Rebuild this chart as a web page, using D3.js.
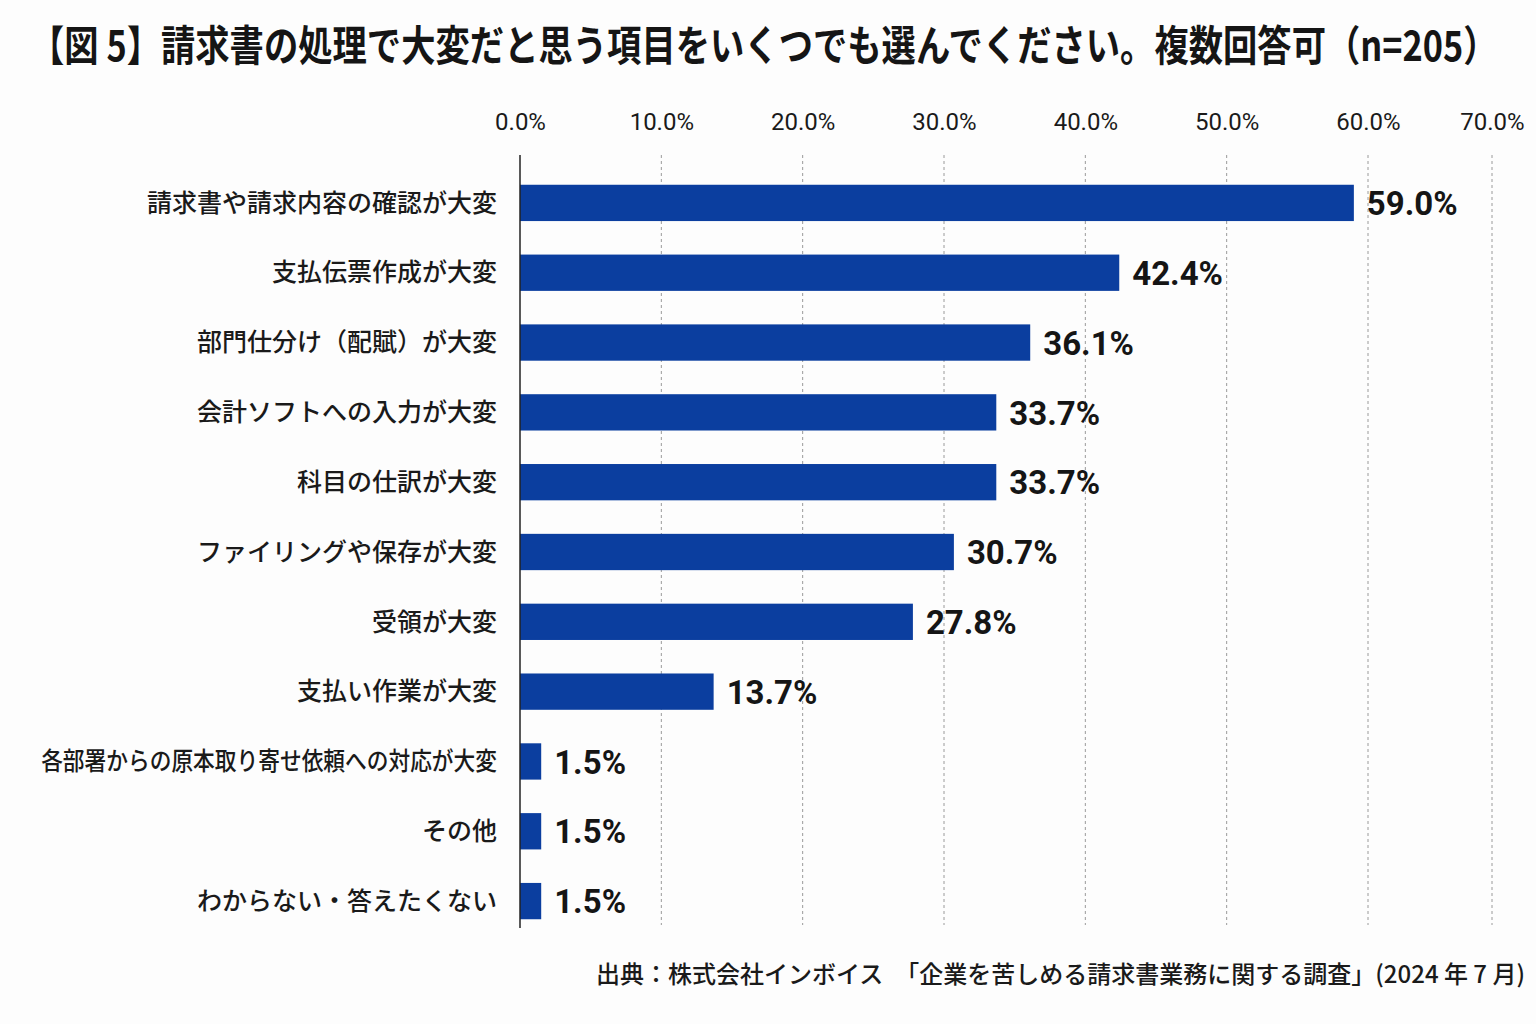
<!DOCTYPE html>
<html>
<head>
<meta charset="utf-8">
<script src="https://cdn.jsdelivr.net/npm/d3@7"></script>
<style>
  body { margin: 0; background: #fdfdfd; }
  svg { display: block; }
</style>
</head>
<body>
<div id="chart"></div>
<script>
// data
var titleText = "【図 5】請求書の処理で大変だと思う項目をいくつでも選んでください。複数回答可（n=205）";
var sourceText = "出典：株式会社インボイス　「企業を苦しめる請求書業務に関する調査」(2024 年 7 月)";
var categories = [
  "請求書や請求内容の確認が大変",
  "支払伝票作成が大変",
  "部門仕分け（配賦）が大変",
  "会計ソフトへの入力が大変",
  "科目の仕訳が大変",
  "ファイリングや保存が大変",
  "受領が大変",
  "支払い作業が大変",
  "各部署からの原本取り寄せ依頼への対応が大変",
  "その他",
  "わからない・答えたくない"
];
var values = [59.0, 42.4, 36.1, 33.7, 33.7, 30.7, 27.8, 13.7, 1.5, 1.5, 1.5];
var tickValues = [0, 10, 20, 30, 40, 50, 60, 70];

var W = 1536, H = 1024;
var fontStack = "Roboto, 'Noto Sans CJK JP', sans-serif";
var cjkStack = "'Noto Sans CJK JP', Roboto, sans-serif";

var svg = d3.select("#chart")
  .append("svg")
    .attr("width", W)
    .attr("height", H);

svg.append("rect")
    .attr("width", W).attr("height", H)
    .attr("fill", "#fdfdfd");

// squeeze a text horizontally so it fits a given width
function fitWidth(sel, tx, ty, maxW) {
  var len = sel.node().getComputedTextLength();
  var s = len > maxW ? maxW / len : 1;
  sel.attr("transform", "translate(" + tx + "," + ty + ") scale(" + s + ",1)");
}

// title
var title = svg.append("text")
    .attr("x", 0)
    .attr("y", 0)
    .attr("font-family", cjkStack)
    .attr("font-weight", "bold")
    .attr("font-size", "42px")
    .attr("fill", "#151515")
    .text(titleText);
fitWidth(title, 30, 61, 1468);

// x scale (the picture's grid is slightly uneven towards the right end)
var x = d3.scaleLinear()
    .domain([0, 60, 70])
    .range([520, 1368, 1492]);

var y = d3.scaleBand()
    .domain(categories)
    .range([168, 936])
    .paddingInner(0.48)
    .paddingOuter(0.24);

// grid lines
svg.append("g")
  .selectAll("line")
  .data(tickValues.slice(1))
  .enter().append("line")
    .attr("x1", function(d) { return x(d); })
    .attr("x2", function(d) { return x(d); })
    .attr("y1", 155)
    .attr("y2", 925)
    .attr("stroke", "#9a9a9a")
    .attr("stroke-width", 1)
    .attr("stroke-dasharray", "3,3");

// top axis labels
var axisTop = svg.append("g")
    .attr("transform", "translate(0,136)")
    .call(d3.axisTop(x)
      .tickValues(tickValues)
      .tickSize(0)
      .tickPadding(6)
      .tickFormat(function(d) { return d.toFixed(1) + "%"; }));
axisTop.select(".domain").remove();
axisTop.selectAll("text")
    .attr("font-family", fontStack)
    .attr("font-size", "24px")
    .attr("fill", "#1a1a1a");

// bars
svg.append("g")
  .selectAll("rect")
  .data(values)
  .enter().append("rect")
    .attr("x", x(0))
    .attr("y", function(d, i) { return y(categories[i]); })
    .attr("width", function(d) { return x(d) - x(0); })
    .attr("height", y.bandwidth())
    .attr("fill", "#0b3e9f");

// vertical axis line
svg.append("line")
    .attr("x1", x(0)).attr("x2", x(0))
    .attr("y1", 155).attr("y2", 928)
    .attr("stroke", "#222")
    .attr("stroke-width", 1.5);

// category labels
svg.append("g")
  .selectAll("text")
  .data(categories)
  .enter().append("text")
    .attr("x", 0)
    .attr("y", 0)
    .attr("dy", "0.35em")
    .attr("text-anchor", "end")
    .attr("font-family", cjkStack)
    .attr("font-weight", 500)
    .attr("font-size", "25px")
    .attr("fill", "#1a1a1a")
    .text(function(d) { return d; })
    .each(function(d) {
      fitWidth(d3.select(this), 497, y(d) + y.bandwidth() / 2, 456);
    });

// value labels
svg.append("g")
  .selectAll("text")
  .data(values)
  .enter().append("text")
    .attr("x", function(d) { return x(d) + 13; })
    .attr("y", function(d, i) { return y(categories[i]) + y.bandwidth() / 2; })
    .attr("dy", "0.37em")
    .attr("font-family", fontStack)
    .attr("font-weight", "bold")
    .attr("font-size", "33px")
    .attr("fill", "#151515")
    .text(function(d) { return d.toFixed(1) + "%"; });

// source
svg.append("text")
    .attr("x", 1525)
    .attr("y", 983)
    .attr("text-anchor", "end")
    .attr("font-family", cjkStack)
    .attr("font-weight", 500)
    .attr("font-size", "24px")
    .attr("fill", "#1a1a1a")
    .text(sourceText);
</script>
</body>
</html>
